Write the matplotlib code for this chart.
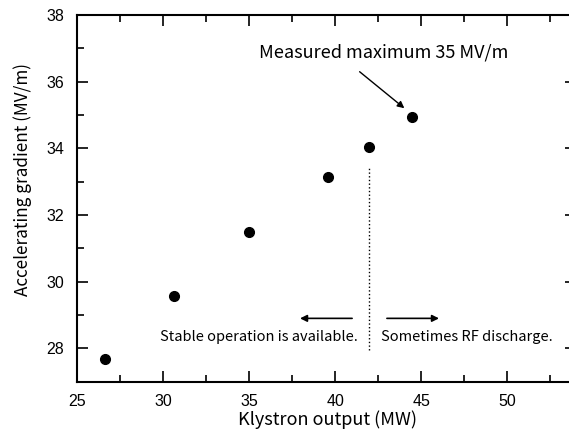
import matplotlib
matplotlib.use('Agg')
from matplotlib import pyplot as plt
from matplotlib.ticker import MultipleLocator

plt.rcParams['font.family'] = ['Noto Sans CJK JP', 'DejaVu Sans']

# data
power = [26.65, 30.65, 35.0, 39.6, 41.95, 44.45]
gradient = [27.67, 29.57, 31.48, 33.15, 34.03, 34.93]
boundary = 41.95

fig = plt.figure(figsize=(5.69, 4.32), dpi=100)
ax = fig.add_axes([0.1353, 0.1164, 0.877, 0.849])

ax.plot(power, gradient, 'o', color='black', markersize=7)
ax.plot([boundary, boundary], [27.95, 33.45], ':', color='black', linewidth=1)

ax.set_xlim(25, 54)
ax.set_ylim(27, 38)
ax.xaxis.set_major_locator(MultipleLocator(5))
ax.xaxis.set_minor_locator(MultipleLocator(2.5))
ax.yaxis.set_major_locator(MultipleLocator(2))
ax.yaxis.set_minor_locator(MultipleLocator(1))
ax.tick_params(which='both', direction='in', top=True, right=True, width=1.2, labelsize=11.5)
ax.tick_params(which='major', length=8)
ax.tick_params(which='minor', length=5)
ax.tick_params(axis='x', pad=9)
ax.tick_params(axis='y', pad=9)
for lab in ax.get_xticklabels() + ax.get_yticklabels():
    lab.set_fontfamily('Liberation Sans')
for s in ax.spines.values():
    s.set_linewidth(1.5)

fig.text(0.575, 0.028, 'Klystron output (MW)', fontsize=13, ha='center', va='center')
fig.text(0.039, 0.585, 'Accelerating gradient (MV/m)', fontsize=12.3, ha='center', va='center',
         rotation=90)

ax.annotate('', xy=(44.15, 35.15), xytext=(41.3, 36.35),
            arrowprops=dict(arrowstyle='-|>', color='black', lw=1, mutation_scale=10))
ax.text(35.6, 36.86, 'Measured maximum 35 MV/m', fontsize=13, va='center', ha='left')

ax.annotate('', xy=(37.8, 28.9), xytext=(41.15, 28.9),
            arrowprops=dict(arrowstyle='-|>', color='black', lw=1.2, mutation_scale=10))
ax.annotate('', xy=(46.2, 28.9), xytext=(42.85, 28.9),
            arrowprops=dict(arrowstyle='-|>', color='black', lw=1.2, mutation_scale=10))
ax.text(41.3, 28.33, 'Stable operation is available.', fontsize=10.5, va='center', ha='right')
ax.text(42.65, 28.33, 'Sometimes RF discharge.', fontsize=10.5, va='center', ha='left')

plt.savefig('out.png', dpi=100)
